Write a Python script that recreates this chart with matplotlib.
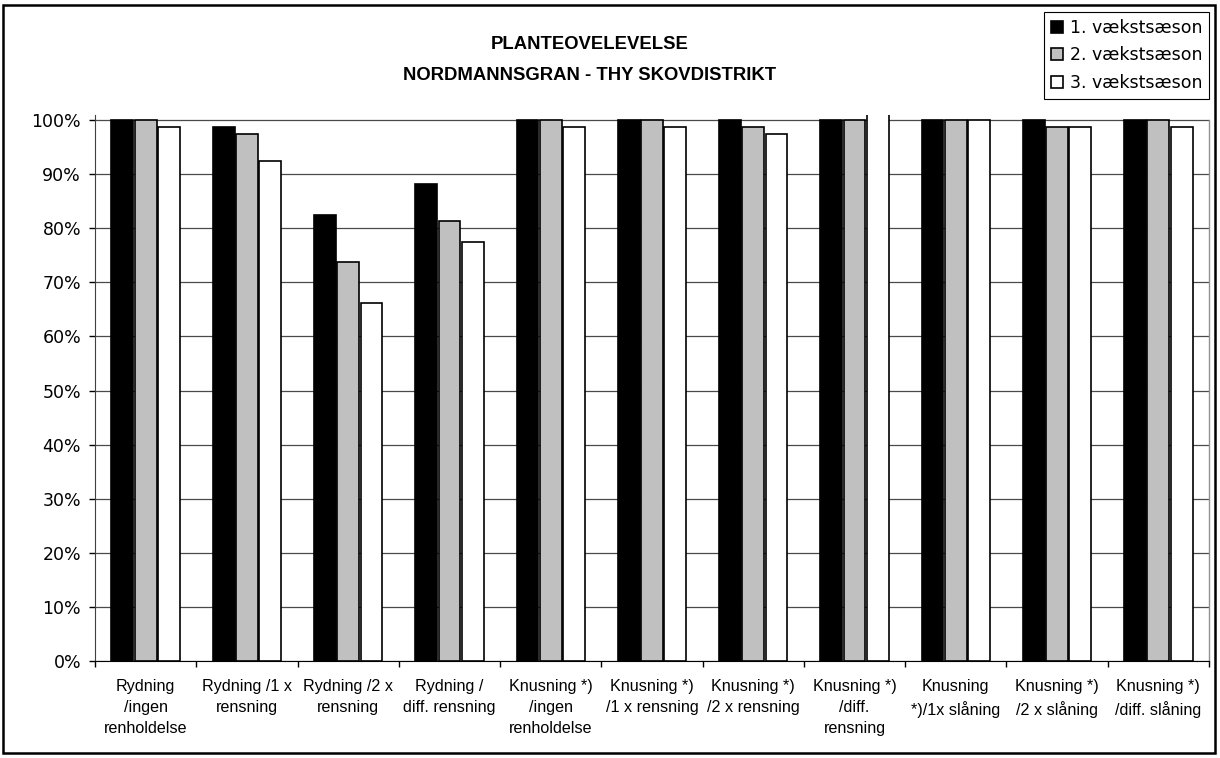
import matplotlib
matplotlib.use("Agg")
import matplotlib.pyplot as plt
import numpy as np
from matplotlib.patches import Rectangle
from matplotlib.ticker import FuncFormatter

plt.rcParams['font.family'] = ['Liberation Sans', 'DejaVu Sans']

categories = [
    "Rydning\n/ingen\nrenholdelse",
    "Rydning /1 x\nrensning",
    "Rydning /2 x\nrensning",
    "Rydning /\ndiff. rensning",
    "Knusning *)\n/ingen\nrenholdelse",
    "Knusning *)\n/1 x rensning",
    "Knusning *)\n/2 x rensning",
    "Knusning *)\n/diff.\nrensning",
    "Knusning\n*)/1x slåning",
    "Knusning *)\n/2 x slåning",
    "Knusning *)\n/diff. slåning",
]
series_names = ["1. vækstsæson", "2. vækstsæson", "3. vækstsæson"]
season_1 = [100, 98.75, 82.5, 88.1, 100, 100, 100, 100, 100, 100, 100]
season_2 = [100, 97.5, 73.75, 81.25, 100, 100, 98.75, 100, 100, 98.75, 100]
season_3 = [98.75, 92.5, 66.25, 77.5, 98.75, 98.75, 97.5, 102.5, 100, 98.75, 98.75]
y_ticks = list(range(0, 101, 10))

fills = ["black", "#c0c0c0", "white"]

fig = plt.figure(figsize=(12.2, 7.58), dpi=100)
ax = fig.add_axes([95 / 1220, 1 - 661 / 758, (1209 - 95) / 1220, (661 - 114.6) / 758])

x = np.arange(len(categories))
step = 0.23
for i, (vals, name) in enumerate(zip([season_1, season_2, season_3], series_names)):
    ax.bar(x + (i - 1) * step, vals, width=0.215, color=fills[i],
           edgecolor="black", linewidth=1.2, label=name, zorder=3)

ax.set_xlim(-0.5, len(categories) - 0.5)
ax.set_ylim(0, 101)
ax.set_yticks(y_ticks)
ax.yaxis.set_major_formatter(FuncFormatter(lambda v, p: f"{int(v)}%"))
ax.yaxis.grid(True, color="#4a4a4a", linewidth=0.9, zorder=0)
ax.set_axisbelow(True)

ax.set_xticks(x)
ax.set_xticklabels(categories, fontsize=11.6, linespacing=1.5)
ax.set_xticks(np.arange(-0.5, len(categories), 1), minor=True)
ax.tick_params(axis="x", which="major", length=0, pad=13)
ax.tick_params(axis="x", which="minor", length=4, width=1, direction="out")
ax.tick_params(axis="y", length=4, width=1, pad=6, labelsize=12.5)
for lab in ax.get_yticklabels():
    lab.set_fontfamily("DejaVu Sans")

ax.spines["top"].set_visible(False)
ax.spines["right"].set_visible(False)
ax.spines["left"].set_color("#404040")
ax.spines["bottom"].set_color("black")
ax.plot([len(categories) - 0.5] * 2, [0, 100], color="#909090", linewidth=1,
        clip_on=False, zorder=1)

fig.text(590 / 1220, 1 - 44.5 / 758, "PLANTEOVELEVELSE", ha="center", va="center",
         fontsize=13.3, fontweight="bold")
fig.text(590 / 1220, 1 - 75.5 / 758, "NORDMANNSGRAN - THY SKOVDISTRIKT", ha="center",
         va="center", fontsize=13.3, fontweight="bold")

leg = fig.legend(loc="upper right", bbox_to_anchor=(1209 / 1220, 1 - 12 / 758),
                 frameon=True, fancybox=False, edgecolor="black", framealpha=1,
                 borderaxespad=0, prop={"family": "DejaVu Sans", "size": 12.5},
                 handlelength=0.7, handleheight=0.7, handletextpad=0.35,
                 labelspacing=0.55, borderpad=0.4)
leg.get_frame().set_linewidth(0.8)

fig.patches.append(Rectangle((3 / 1220, 5 / 758), (1215 - 3) / 1220, (753 - 5) / 758,
                             transform=fig.transFigure, fill=False,
                             edgecolor="black", linewidth=1.8))

fig.savefig("out.png", dpi=100)
